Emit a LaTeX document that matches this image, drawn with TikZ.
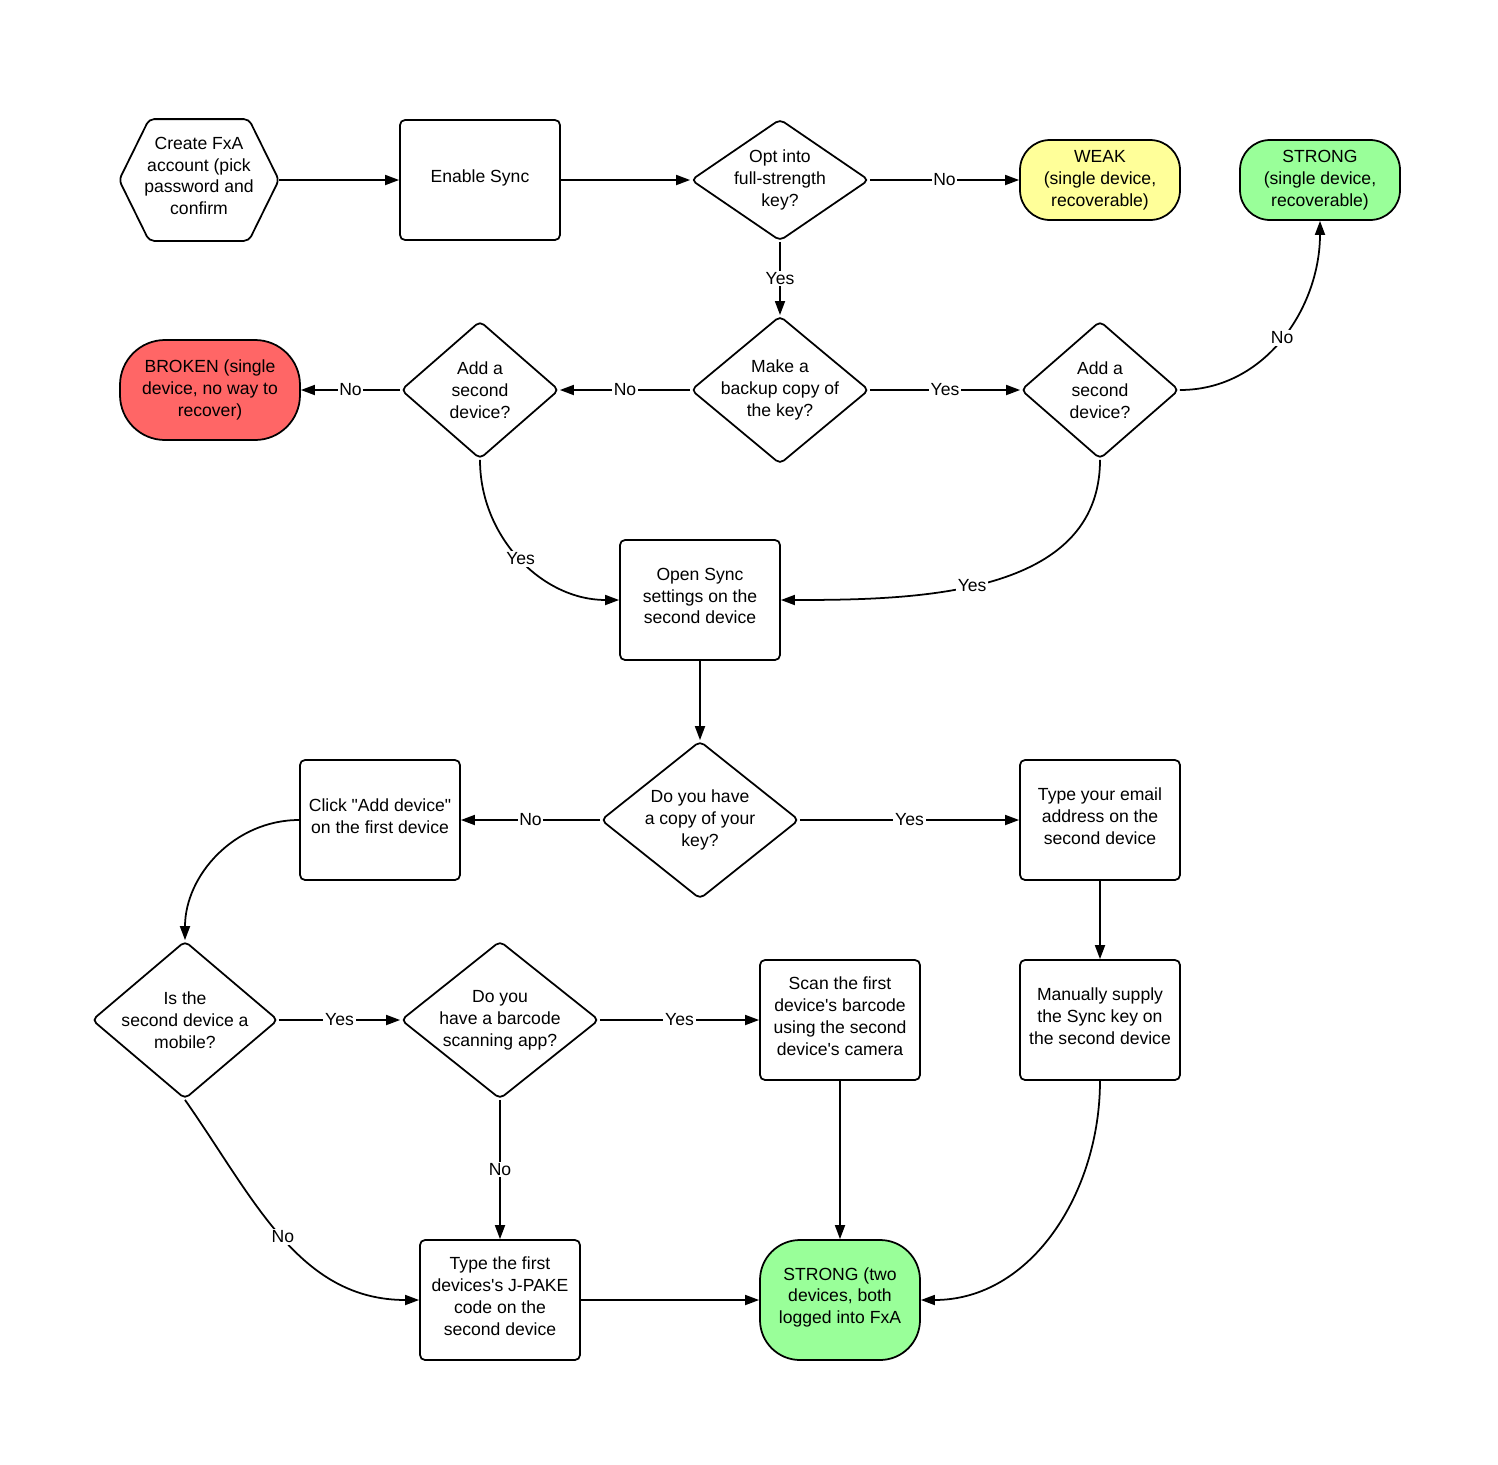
\documentclass[tikz,border=0pt]{standalone}
\usepackage{fontspec}
\setmainfont{Liberation Sans}
\usetikzlibrary{shapes.geometric, arrows.meta}
\definecolor{weakyellow}{HTML}{FFFF99}
\definecolor{stronggreen}{HTML}{99FF99}
\definecolor{brokenred}{HTML}{FF6666}
\tikzset{
	>={Triangle[length=2.8mm,width=2mm]},
	every node/.style={font=\fontsize{10}{12.4}\selectfont, align=center},
	box/.style={rectangle, draw, rounded corners=1mm, minimum width=32mm, minimum height=24mm, text depth=4.6pt},
	decision/.style={diamond, draw, rounded corners=1mm, inner sep=-1.5mm},
	terminal/.style={rectangle, draw, rounded corners=6mm, minimum width=32mm, minimum height=16mm},
	hexstart/.style={rectangle, minimum width=31.6mm, minimum height=24mm, text depth=4.6pt},
	lbl/.style={fill=white, inner sep=1pt}}

\begin{document}
\begin{tikzpicture}[x=0.2mm, y=-0.2mm, line width=1pt]
	\useasboundingbox (0,0) rectangle (1498,1465);
	
	% top row
	\node[hexstart] (create) at (199,180) {Create FxA\\account (pick\\password and\\confirm};
	\draw[rounded corners=1mm] (create.west) -- ([xshift=6mm]create.north west) -- ([xshift=-6mm]create.north east)
		-- (create.east) -- ([xshift=-6mm]create.south east) -- ([xshift=6mm]create.south west) -- cycle;
	\node[box] (enable) at (480,180) {Enable Sync};
	\node[decision, minimum width=35.6mm, minimum height=24mm] (opt) at (780,180) {Opt into\\full-strength\\key?};
	\node[terminal, fill=weakyellow] (weak) at (1100,180) {WEAK\\(single device,\\recoverable)};
	\node[terminal, fill=stronggreen] (strong1) at (1320,180) {STRONG\\(single device,\\recoverable)};
	
	% backup row
	\node[terminal, fill=brokenred, minimum width=36mm, minimum height=20mm, rounded corners=9mm] (broken) at (210,390) {BROKEN (single\\device, no way to\\recover)};
	\node[decision, minimum width=31.6mm, minimum height=27.6mm] (addL) at (480,390) {Add a\\second\\device?};
	\node[decision, minimum width=35.6mm, minimum height=27.6mm] (backup) at (780,390) {Make a\\backup copy of\\the key?};
	\node[decision, minimum width=31.6mm, minimum height=27.6mm] (addR) at (1100,390) {Add a\\second\\device?};
	
	\node[box] (open) at (700,600) {Open Sync\\settings on the\\second device};
	
	% second device
	\node[box] (click) at (380,820) {Click \textquotedbl Add device\textquotedbl\\on the first device};
	\node[decision, minimum width=39.6mm, minimum height=31.6mm] (copy) at (700,820) {Do you have\\a copy of your\\key?};
	\node[box] (email) at (1100,820) {Type your email\\address on the\\second device};
	
	\node[decision, minimum width=37.2mm, minimum height=31.6mm] (mobile) at (185,1020) {Is the\\second device a\\mobile?};
	\node[decision, minimum width=39.6mm, minimum height=31.6mm] (barcode) at (500,1020) {Do you\\have a barcode\\scanning app?};
	\node[box] (scan) at (840,1020) {Scan the first\\device\textquotesingle s barcode\\using the second\\device\textquotesingle s camera};
	\node[box] (manual) at (1100,1020) {Manually supply\\the Sync key on\\the second device};
	
	\node[box] (jpake) at (500,1300) {Type the first\\devices\textquotesingle s J-PAKE\\code on the\\second device};
	\node[terminal, fill=stronggreen, minimum height=24mm, rounded corners=8mm, text depth=5pt] (strong2) at (840,1300) {STRONG (two\\devices, both\\logged into FxA};
	
	\path[->]
	(create) edge (enable)
	(enable) edge (opt)
	(opt) edge node[lbl]{No} (weak)
	(opt) edge node[lbl]{Yes} (backup)
	(backup) edge node[lbl]{No} (addL)
	(addL) edge node[lbl]{No} (broken)
	(backup) edge node[lbl]{Yes} (addR)
	(addR) edge[out=0, in=-90] node[lbl]{No} (strong1)
	(addL) edge[out=-90, in=180] node[lbl, pos=0.5]{Yes} (open)
	(addR) edge[out=-90, in=0] node[lbl, pos=0.55]{Yes} (open)
	(open) edge (copy)
	(copy) edge node[lbl]{No} (click)
	(copy) edge node[lbl]{Yes} (email)
	(email) edge (manual)
	(click) edge[out=180, in=90] (mobile)
	(mobile) edge node[lbl]{Yes} (barcode)
	(barcode) edge node[lbl]{Yes} (scan)
	(barcode) edge node[lbl]{No} (jpake)
	(mobile.south) edge[out=-55, in=180] node[lbl]{No} (jpake)
	(jpake) edge (strong2)
	(scan) edge (strong2)
	(manual) edge[out=-90, in=0] (strong2)
	;
\end{tikzpicture}
\end{document}
